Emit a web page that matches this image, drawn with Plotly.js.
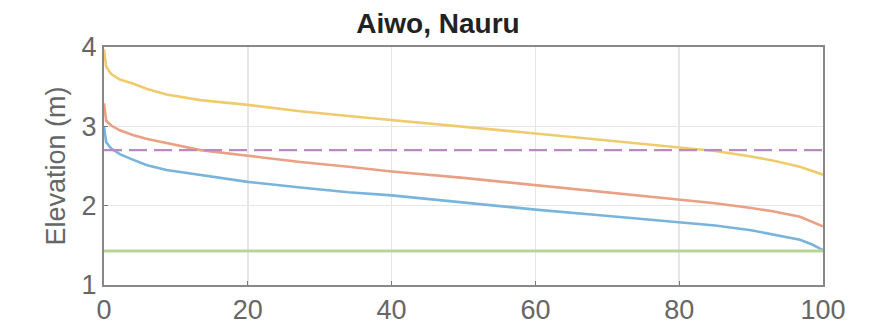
<!DOCTYPE html>
<html>
<head>
<meta charset="utf-8">
<script src="https://cdn.plot.ly/plotly-3.0.1.min.js"></script>
<style>html,body{margin:0;padding:0;background:#fff;}#chart{width:876px;height:331px;}</style>
</head>
<body>
<div id="chart"></div>
<script>
// Percent of time (x) and elevation (m) for each curve
const xs = [0, 0.3, 1, 2.2, 4, 6, 8.7, 13.4, 20, 27.3, 34, 40, 50, 60, 69, 80, 85, 90, 93, 96.8, 98.5, 100];
const yellowY = [3.97, 3.75, 3.66, 3.59, 3.54, 3.47, 3.40, 3.33, 3.27, 3.19, 3.13, 3.08, 3.00, 2.91, 2.83, 2.74, 2.69, 2.62, 2.57, 2.49, 2.44, 2.39];
const orangeY = [3.29, 3.07, 3.01, 2.95, 2.89, 2.84, 2.79, 2.70, 2.63, 2.55, 2.49, 2.43, 2.35, 2.26, 2.18, 2.08, 2.03, 1.97, 1.93, 1.86, 1.80, 1.74];
const blueY   = [3.00, 2.80, 2.72, 2.65, 2.58, 2.51, 2.45, 2.39, 2.30, 2.23, 2.17, 2.13, 2.04, 1.95, 1.88, 1.79, 1.75, 1.69, 1.64, 1.57, 1.51, 1.44];
const flatX = [0, 100];
const purpleLevel = [2.70, 2.70];
const greenLevel = [1.43, 1.43];
const xTicks = [0, 20, 40, 60, 80, 100];
const yTicks = [1, 2, 3, 4];

const traces = [
  {x: xs, y: blueY, mode: 'lines', line: {color: '#79B4DC', width: 2.6}},
  {x: xs, y: orangeY, mode: 'lines', line: {color: '#E9A084', width: 2.6}},
  {x: xs, y: yellowY, mode: 'lines', line: {color: '#F0CB6E', width: 2.6}},
  {x: flatX, y: purpleLevel, mode: 'lines', line: {color: '#B98AC2', width: 2.4, dash: '18px,7px'}},
  {x: flatX, y: greenLevel, mode: 'lines', line: {color: '#B7D595', width: 3}}
];

const layout = {
  width: 876, height: 331,
  margin: {l: 104, r: 53, t: 47, b: 46},
  paper_bgcolor: '#fff', plot_bgcolor: '#fff',
  showlegend: false,
  font: {family: 'Liberation Sans, Arial, sans-serif', color: '#555'},
  title: {text: '<b>Aiwo, Nauru</b>', x: 0.5, xanchor: 'center', y: 0.93, yanchor: 'middle',
          font: {size: 28, color: '#222', family: 'Liberation Sans, Arial, sans-serif'}},
  xaxis: {range: [0, 100], tickvals: xTicks, ticks: 'inside', ticklen: 4, tickcolor: '#777',
          showgrid: true, gridcolor: '#e6e6e6', gridwidth: 1.5, zeroline: false,
          showline: true, linecolor: '#888', linewidth: 2, mirror: true,
          tickfont: {size: 27, color: '#666'}},
  yaxis: {range: [1, 4], tickvals: yTicks, ticks: 'inside', ticklen: 4, tickcolor: '#777',
          showgrid: true, gridcolor: '#e6e6e6', gridwidth: 1.5, zeroline: false,
          showline: true, linecolor: '#888', linewidth: 2, mirror: true,
          tickfont: {size: 27, color: '#666'},
          title: {text: 'Elevation (m)', standoff: 8, font: {size: 27, color: '#666'}}}
};

Plotly.newPlot('chart', traces, layout, {displayModeBar: false, staticPlot: true});
</script>
</body>
</html>
